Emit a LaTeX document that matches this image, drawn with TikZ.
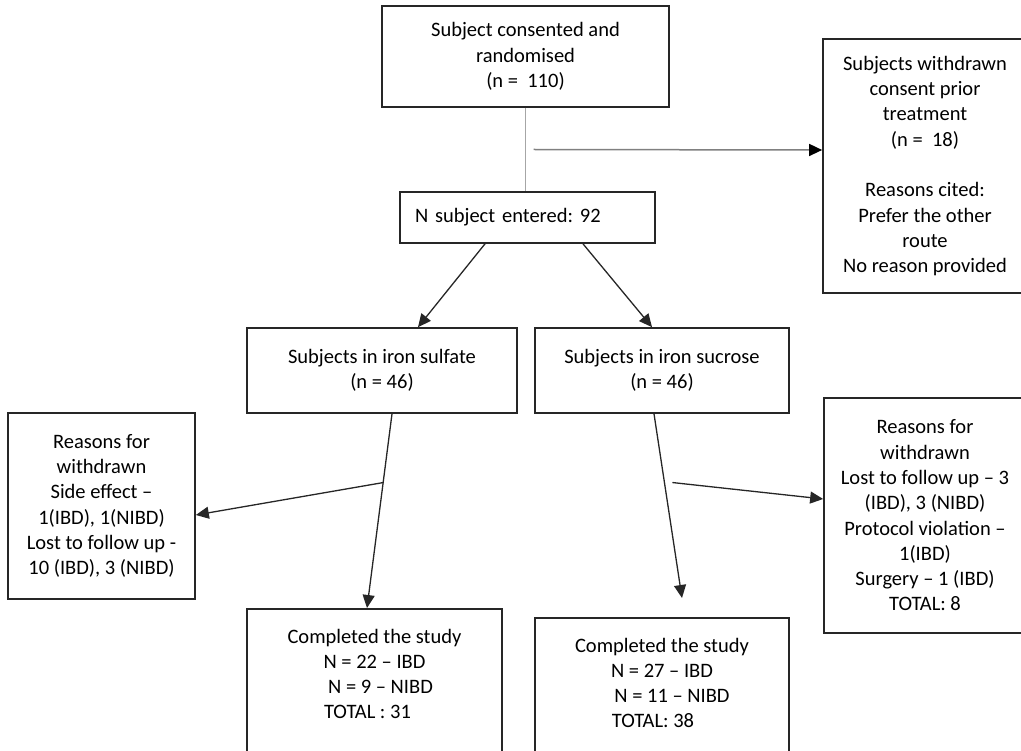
\documentclass[tikz,border=0pt]{standalone}
\usepackage{fontspec}
\setmainfont{Carlito}
\usetikzlibrary{arrows.meta,positioning}
\definecolor{boxline}{HTML}{262626}
\definecolor{greyline}{HTML}{A6A6A6}
\definecolor{midgrey}{HTML}{808080}
\frenchspacing

\begin{document}
\begin{tikzpicture}[x=1pt,y=-1pt,
    stagebox/.style={draw=boxline, line width=1.7pt, align=center, inner sep=4pt,
        font=\fontsize{20.5}{25.3}\selectfont},
    flowarrow/.style={draw=boxline, line width=1.3pt, -{Triangle[length=13pt,width=12pt]}}]

    \useasboundingbox (0,0) rectangle (1021,751);
    \clip (0,0) rectangle (1021,751);

    % Randomisation and entry
    \node[stagebox, minimum width=287pt, minimum height=101pt] (consent) at (525.5,56.5)
        {Subject consented and\\randomised\\(n = \ 110)};
    \node[stagebox, align=left, text width=225pt, inner xsep=15pt, minimum height=51pt] (entered) at (527.5,217.5)
        {N subject entered: 92};
    \node[stagebox, minimum width=204pt, minimum height=254pt] (withdrawn) at (925,166)
        {Subjects withdrawn\\consent prior\\treatment\\(n = \ 18)\\[25.3pt]Reasons cited:\\Prefer the other\\route\\No reason provided};

    % The two arms
    \node[stagebox, minimum width=270pt, minimum height=85pt] (sulfate) at (382,370.5)
        {Subjects in iron sulfate\\(n = 46)};
    \node[stagebox, minimum width=254pt, minimum height=85pt] (sucrose) at (662,370.5)
        {Subjects in iron sucrose\\(n = 46)};

    % Withdrawals per arm
    \node[stagebox, minimum width=187pt, minimum height=186pt] (leftwd) at (101.5,506)
        {Reasons for\\withdrawn\\Side effect –\\1(IBD), 1(NIBD)\\Lost to follow up -\\10 (IBD), 3 (NIBD)};
    \node[stagebox, minimum width=202pt, minimum height=235pt] (rightwd) at (925,515.5)
        {Reasons for\\withdrawn\\Lost to follow up – 3\\(IBD), 3 (NIBD)\\Protocol violation –\\1(IBD)\\Surgery – 1 (IBD)\\TOTAL: 8};

    % Completers, boxes run off the bottom edge
    \node[stagebox, anchor=north, minimum width=255pt, inner ysep=20pt, text depth=150pt] (donesulf) at (374.5,608)
        {Completed the study\\N = 22 – IBD\\\hspace*{12pt}N = 9 – NIBD\\TOTAL : 31\hspace*{14pt}};
    \node[stagebox, anchor=north, minimum width=254pt, inner ysep=20pt, text depth=150pt] (donesucr) at (662,617)
        {Completed the study\\N = 27 – IBD\\\hspace*{20pt}N = 11 – NIBD\\TOTAL: 38\hspace*{18pt}};

    % Connectors
    \draw[greyline, line width=1.5pt] (consent.south) -- coordinate[pos=0.5] (split) (consent.south |- entered.north);
    \draw[midgrey, line width=1.5pt, -{Triangle[length=13pt,width=12pt,color=black]}] ([xshift=8pt]split) -- ([yshift=16pt]withdrawn.west);

    \draw[flowarrow] ([xshift=-42.5pt]entered.south) -- ([xshift=36pt]sulfate.north);
    \draw[flowarrow] ([xshift=55.5pt]entered.south) -- ([xshift=-10pt]sucrose.north);

    \draw[flowarrow] ([xshift=10pt]sulfate.south) -- coordinate[pos=0.354] (sulfsplit) ([xshift=-7.5pt]donesulf.north);
    \draw[flowarrow] (sulfsplit) -- ([yshift=-9pt]leftwd.east);

    \draw[flowarrow] ([xshift=-8pt]sucrose.south) -- coordinate[pos=0.373] (sucrsplit) ([xshift=20pt,yshift=19pt]donesucr.north);
    \draw[flowarrow] ([xshift=8pt]sucrsplit) -- ([yshift=16.5pt]rightwd.west);
\end{tikzpicture}
\end{document}
